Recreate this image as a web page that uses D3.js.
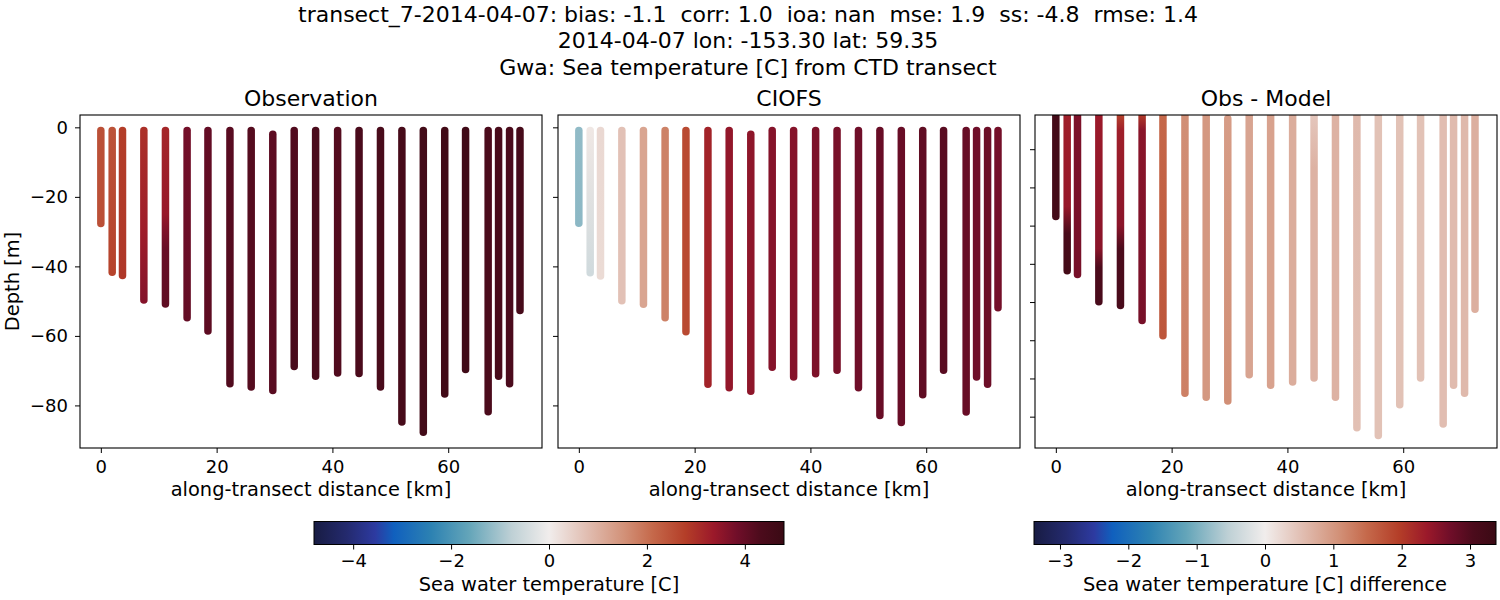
<!DOCTYPE html>
<html>
<head>
<meta charset="utf-8">
<script src="https://cdn.jsdelivr.net/npm/d3@7"></script>
<style>
  body { margin: 0; background: #fff; }
  svg { display: block; font-family: "DejaVu Sans", sans-serif; }
  .tick text { font-size: 18px; fill: #000; }
  .tick line { stroke: #000; }
  .domain { display: none; }
</style>
</head>
<body>
<svg id="chart" width="1500" height="600"></svg>
<script>
// ---------------- DATA ----------------
const titleLines = [
  "transect_7-2014-04-07: bias: -1.1  corr: 1.0  ioa: nan  mse: 1.9  ss: -4.8  rmse: 1.4",
  "2014-04-07 lon: -153.30 lat: 59.35",
  "Gwa: Sea temperature [C] from CTD transect"
];
const panelTitles = ["Observation", "CIOFS", "Obs - Model"];

// station along-transect distance [km]
const distanceKm = [0, 1.96, 3.74, 7.43, 11.16, 14.9, 18.5, 22.3, 25.97, 29.7, 33.4, 37.1,
                    40.9, 44.6, 48.3, 52.0, 55.7, 59.4, 63.0, 66.9, 68.7, 70.6, 72.4];
// shallowest sample depth [m]
const topDepth = [0.9, 0.9, 0.9, 0.9, 0.9, 0.9, 0.9, 0.9, 0.9, 2.0, 0.9, 0.9,
                  0.9, 0.9, 0.9, 0.9, 0.9, 0.9, 0.9, 0.9, 0.9, 0.9, 0.9];
// deepest observed sample depth [m]
const obsBottomDepth = [27.7, 41.7, 42.6, 49.7, 50.8, 54.8, 58.6, 73.8, 74.7, 75.7, 68.8, 71.6,
                        70.7, 70.8, 74.7, 84.8, 87.7, 76.7, 69.7, 81.8, 71.6, 73.8, 52.7];
// deepest model sample depth [m]
const modelBottomDepth = [27.6, 41.8, 42.8, 49.9, 50.9, 54.8, 58.8, 73.9, 74.9, 75.9, 69.0, 71.8,
                          70.9, 69.9, 74.9, 82.9, 84.9, 76.9, 69.9, 81.9, 71.8, 73.9, 51.9];

// temperature profiles: [depth m, value C] knots per station
const obsTemp = [
  [[0.9, 2.5], [27.7, 2.5]],
  [[0.9, 2.45], [41.7, 2.7]],
  [[0.9, 2.8], [42.6, 2.9]],
  [[0.9, 3.0], [30, 3.3], [49.7, 3.6]],
  [[0.9, 3.15], [25, 3.4], [30, 3.7], [35, 3.95], [50.8, 4.05]],
  [[0.9, 3.8], [54.8, 4.0]],
  [[0.9, 4.0], [58.6, 4.1]],
  [[0.9, 4.15], [73.8, 4.25]],
  [[0.9, 4.2], [74.7, 4.2]],
  [[2.0, 4.1], [75.7, 4.15]],
  [[0.9, 4.25], [68.8, 4.4]],
  [[0.9, 4.35], [71.6, 4.35]],
  [[0.9, 4.2], [70.7, 4.25]],
  [[0.9, 4.35], [70.8, 4.35]],
  [[0.9, 4.4], [74.7, 4.4]],
  [[0.9, 4.45], [84.8, 4.45]],
  [[0.9, 4.55], [87.7, 4.55]],
  [[0.9, 4.6], [76.7, 4.6]],
  [[0.9, 4.65], [69.7, 4.65]],
  [[0.9, 4.35], [81.8, 4.35]],
  [[0.9, 4.4], [71.6, 4.4]],
  [[0.9, 4.35], [73.8, 4.35]],
  [[0.9, 4.45], [52.7, 4.45]]
];
const modelTemp = [
  [[0.9, -1.2], [27.6, -1.25]],
  [[0.9, 0.1], [41.8, -0.5]],
  [[0.9, 0.35], [42.8, 0.3]],
  [[0.9, 0.72], [49.9, 0.72]],
  [[0.9, 1.2], [50.9, 1.2]],
  [[0.9, 1.75], [54.8, 1.75]],
  [[0.9, 2.6], [58.8, 2.6]],
  [[0.9, 3.2], [73.9, 3.2]],
  [[0.9, 3.45], [74.9, 3.45]],
  [[2.0, 3.5], [75.9, 3.5]],
  [[0.9, 3.6], [69.0, 3.6]],
  [[0.9, 3.6], [71.8, 3.6]],
  [[0.9, 3.7], [70.9, 3.7]],
  [[0.9, 3.75], [69.9, 3.75]],
  [[0.9, 3.85], [74.9, 3.85]],
  [[0.9, 3.95], [82.9, 3.95]],
  [[0.9, 3.95], [84.9, 3.95]],
  [[0.9, 4.05], [76.9, 4.05]],
  [[0.9, 4.15], [69.9, 4.15]],
  [[0.9, 3.95], [81.9, 3.95]],
  [[0.9, 3.85], [71.8, 3.85]],
  [[0.9, 3.9], [73.9, 3.9]],
  [[0.9, 3.8], [51.9, 3.8]]
];
const diffTemp = [
  [[0.9, 3.2], [27.6, 3.2]],
  [[0.9, 2.3], [25, 2.4], [32, 3.1], [41.8, 3.2]],
  [[0.9, 2.6], [42.8, 2.65]],
  [[0.9, 2.35], [36, 2.5], [41, 3.05], [49.9, 3.1]],
  [[0.9, 1.9], [5, 2.3], [30, 2.5], [36, 3.05], [50.9, 3.1]],
  [[0.9, 2.0], [5, 2.5], [54.8, 2.65]],
  [[0.9, 1.5], [58.8, 1.7]],
  [[0.9, 1.1], [73.9, 1.25]],
  [[0.9, 1.0], [74.9, 1.0]],
  [[2.0, 0.95], [75.9, 1.1]],
  [[0.9, 0.85], [69.0, 0.85]],
  [[0.9, 0.88], [71.8, 0.88]],
  [[0.9, 0.75], [70.9, 0.75]],
  [[0.9, 0.45], [15, 0.68], [69.9, 0.68]],
  [[0.9, 0.68], [74.9, 0.68]],
  [[0.9, 0.6], [82.9, 0.52]],
  [[0.9, 0.5], [84.9, 0.5]],
  [[0.9, 0.5], [76.9, 0.5]],
  [[0.9, 0.5], [69.9, 0.5]],
  [[0.9, 0.55], [81.9, 0.55]],
  [[0.9, 0.58], [71.8, 0.58]],
  [[0.9, 0.6], [73.9, 0.6]],
  [[0.9, 0.72], [51.9, 0.72]]
];

const tempLimit = 4.8;    // colour limits, first two panels
const diffLimit = 3.38;   // colour limits, difference panel
const xTicks = [0, 20, 40, 60];
const depthTicks = [0, -20, -40, -60, -80];
const diffDepthTicks = [-10, -20, -30, -40, -50, -60, -70, -80];
const tempCbarTicks = [-4, -2, 0, 2, 4];
const diffCbarTicks = [-3, -2, -1, 0, 1, 2, 3];

// cmocean "balance"-like colormap stops
const balanceStops = [0, 0.07, 0.13, 0.17, 0.25, 0.33, 0.42, 0.5, 0.58, 0.66, 0.72, 0.79, 0.85, 0.9, 0.95, 1];
const balanceColors = ["#181c43", "#242a6e", "#2d3aa0", "#1060be", "#2d82b2", "#64a5b9", "#bed0d5", "#f1edec",
                       "#e1beb2", "#d29178", "#c5694b", "#b43e28", "#9b192a", "#700e29", "#4c0b1c", "#3a0a14"];

// ---------------- CHART ----------------
const svg = d3.select("#chart");
const balance = d3.scaleLinear().domain(balanceStops).range(balanceColors).interpolate(d3.interpolateRgb).clamp(true);

const fontFamily = '"DejaVu Sans", sans-serif';
const labelSize = 19.4;
// suptitle
const titleY = [21.5, 48.3, 74.5];
titleLines.forEach((t, i) => {
  svg.append("text").attr("x", 748).attr("y", titleY[i]).attr("text-anchor", "middle")
    .attr("font-size", 22).attr("xml:space", "preserve").style("white-space", "pre").text(t);
});

const panelTop = 115, panelBottom = 448;
const panels = [
  { x0: 80, x1: 542, data: obsTemp, bottom: obsBottomDepth, lim: tempLimit, yDom: [-92.25, 3.55], ticks: depthTicks, labels: true },
  { x0: 558, x1: 1020, data: modelTemp, bottom: modelBottomDepth, lim: tempLimit, yDom: [-92.25, 3.55], ticks: depthTicks, labels: false },
  { x0: 1035, x1: 1497, data: diffTemp, bottom: modelBottomDepth, lim: diffLimit, yDom: [-88.2, -1.05], ticks: diffDepthTicks, labels: false }
];

const defs = svg.append("defs");

panels.forEach((p, pi) => {
  const x = d3.scaleLinear().domain([-3.6, 76.2]).range([p.x0, p.x1]);
  const y = d3.scaleLinear().domain(p.yDom).range([panelBottom, panelTop]);
  const color = v => balance((v + p.lim) / (2 * p.lim));

  defs.append("clipPath").attr("id", "clip" + pi).append("rect")
    .attr("x", p.x0).attr("y", panelTop).attr("width", p.x1 - p.x0).attr("height", panelBottom - panelTop);

  const g = svg.append("g").attr("clip-path", `url(#clip${pi})`);

  distanceKm.forEach((d, si) => {
    const prof = p.data[si];
    const yTop = y(-topDepth[si]), yBot = y(-p.bottom[si]);
    const gid = `g${pi}_${si}`;
    const grad = defs.append("linearGradient").attr("id", gid)
      .attr("gradientUnits", "userSpaceOnUse")
      .attr("x1", x(d)).attr("x2", x(d)).attr("y1", yTop).attr("y2", yBot);
    prof.forEach(([dep, v]) => {
      const off = (y(-dep) - yTop) / (yBot - yTop);
      grad.append("stop").attr("offset", Math.max(0, Math.min(1, off))).attr("stop-color", color(v));
    });
    g.append("line")
      .attr("x1", x(d)).attr("x2", x(d)).attr("y1", yTop).attr("y2", yBot)
      .attr("stroke", `url(#${gid})`).attr("stroke-width", 7.5).attr("stroke-linecap", "round");
  });

  // frame
  svg.append("rect").attr("x", p.x0).attr("y", panelTop).attr("width", p.x1 - p.x0)
    .attr("height", panelBottom - panelTop).attr("fill", "none").attr("stroke", "#000").attr("stroke-width", 1.1);

  // axes
  svg.append("g").attr("transform", `translate(0,${panelBottom})`)
    .call(d3.axisBottom(x).tickValues(xTicks).tickSize(5).tickPadding(7))
    .call(a => a.selectAll("text").style("font-family", fontFamily));
  const ya = d3.axisLeft(y).tickValues(p.ticks).tickSize(5).tickPadding(7);
  if (!p.labels) ya.tickFormat("");
  svg.append("g").attr("transform", `translate(${p.x0},0)`).call(ya)
    .call(a => a.selectAll("text").style("font-family", fontFamily));

  // labels
  svg.append("text").attr("x", (p.x0 + p.x1) / 2).attr("y", 106).attr("text-anchor", "middle")
    .attr("font-size", 22).text(panelTitles[pi]);
  svg.append("text").attr("x", (p.x0 + p.x1) / 2).attr("y", 496).attr("text-anchor", "middle")
    .attr("font-size", labelSize).text("along-transect distance [km]");
});

svg.append("text").attr("transform", `translate(19,${(panelTop + panelBottom) / 2}) rotate(-90)`)
  .attr("text-anchor", "middle").attr("font-size", labelSize).text("Depth [m]");

// colorbars
function colorbar(x0, x1, lim, ticks, label, id) {
  const top = 521.5, h = 23;
  const grad = defs.append("linearGradient").attr("id", id);
  balanceStops.forEach((s, i) => grad.append("stop").attr("offset", s).attr("stop-color", balanceColors[i]));
  svg.append("rect").attr("x", x0).attr("y", top).attr("width", x1 - x0).attr("height", h)
    .attr("fill", `url(#${id})`).attr("stroke", "#000").attr("stroke-width", 1);
  const s = d3.scaleLinear().domain([-lim, lim]).range([x0, x1]);
  svg.append("g").attr("transform", `translate(0,${top + h})`)
    .call(d3.axisBottom(s).tickValues(ticks).tickSize(5).tickPadding(4.7).tickFormat(d3.format("d")))
    .call(a => a.selectAll("text").style("font-family", fontFamily));
  svg.append("text").attr("x", (x0 + x1) / 2).attr("y", 591).attr("text-anchor", "middle")
    .attr("font-size", labelSize).text(label);
}
colorbar(314, 784, tempLimit, tempCbarTicks, "Sea water temperature [C]", "cb1");
colorbar(1034, 1496, diffLimit, diffCbarTicks, "Sea water temperature [C] difference", "cb2");
</script>
</body>
</html>
